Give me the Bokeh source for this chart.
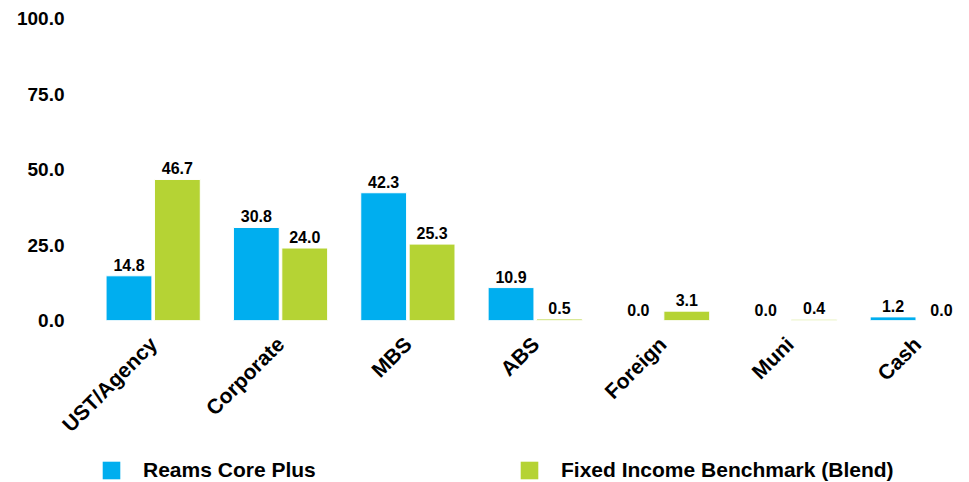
import math
from bokeh.plotting import figure
from bokeh.layouts import column
from bokeh.models import ColumnDataSource, Legend, LegendItem, FixedTicker, Range1d, NumeralTickFormatter
from bokeh.transform import dodge
from bokeh.core.properties import value
from bokeh.embed import file_html
from bokeh.resources import INLINE

categories = ["UST/Agency", "Corporate", "MBS", "ABS", "Foreign", "Muni", "Cash"]
reams = [14.8, 30.8, 42.3, 10.9, 0.0, 0.0, 1.2]
bench = [46.7, 24.0, 25.3, 0.5, 3.1, 0.4, 0.0]
y_ticks = [0, 25, 50, 75, 100]
series_names = ["Reams Core Plus", "Fixed Income Benchmark (Blend)"]
colors = ["#00AEEF", "#B5D334"]

FONT = value("Liberation Sans")
pos = list(range(len(categories)))
src = ColumnDataSource(dict(
    x=pos, reams=reams, bench=bench,
    rl=[f"{v:.1f}" for v in reams], bl=[f"{v:.1f}" for v in bench],
))

p = figure(width=969, height=447,
           x_range=Range1d(-0.5, 6.41), y_range=Range1d(0, 100),
           output_backend="svg", toolbar_location=None,
           min_border_left=89, min_border_right=0, min_border_top=18,
           min_border_bottom=125)

off = 0.19
w = 0.36
r1 = p.vbar(x=dodge("x", -off, range=p.x_range), top="reams", width=w, source=src,
            fill_color=colors[0], line_color="white", line_width=1)
r2 = p.vbar(x=dodge("x", off, range=p.x_range), top="bench", width=w, source=src,
            fill_color=colors[1], line_color="white", line_width=1)

for col, lab, d in (("reams", "rl", -off), ("bench", "bl", off)):
    p.text(x=dodge("x", d, range=p.x_range), y=col, text=lab, source=src,
           text_align="center", text_baseline="bottom", y_offset=-5,
           text_font=FONT, text_font_style="bold", text_font_size="16px",
           text_color="black")

p.xgrid.grid_line_color = None
p.ygrid.grid_line_color = None
p.outline_line_color = None

p.yaxis.ticker = FixedTicker(ticks=y_ticks)
p.yaxis.formatter = NumeralTickFormatter(format="0.0")
p.xaxis.ticker = FixedTicker(ticks=pos)
p.xaxis.major_label_overrides = {i: c for i, c in zip(pos, categories)}
p.xaxis.major_label_orientation = math.pi / 4
for ax in (p.xaxis, p.yaxis):
    ax.axis_line_color = None
    ax.major_tick_line_color = None
    ax.minor_tick_line_color = None
    ax.major_label_text_font = "Liberation Sans"
    ax.major_label_text_font_style = "bold"
    ax.major_label_text_color = "black"
p.yaxis.major_label_text_font_size = "19px"
p.xaxis.major_label_text_font_size = "21px"
p.yaxis.major_label_standoff = 19
p.xaxis.major_label_standoff = 14

# legend strip below the chart (its frame is aligned with the chart's frame);
# its own bars sit outside its ranges so that only the legend shows
lg = figure(width=969, height=35, x_range=Range1d(-20, -10), y_range=Range1d(0, 1),
            output_backend="svg", toolbar_location=None,
            x_axis_location=None, y_axis_location=None, min_border=0)
lg.xgrid.grid_line_color = None
lg.ygrid.grid_line_color = None
lg.outline_line_color = None
d1 = lg.vbar(x="x", top="reams", width=w, source=src, fill_color=colors[0], line_color=None)
d2 = lg.vbar(x="x", top="bench", width=w, source=src, fill_color=colors[1], line_color=None)
legend = Legend(items=[LegendItem(label=series_names[0], renderers=[d1]),
                       LegendItem(label=series_names[1], renderers=[d2])],
                orientation="horizontal", location=(11, 0),
                glyph_width=22, glyph_height=22, label_standoff=21,
                label_width=375, spacing=0, padding=0, margin=0,
                border_line_color=None, background_fill_alpha=0,
                label_text_font="Liberation Sans", label_text_font_style="bold",
                label_text_font_size="21px", label_text_color="black")
lg.add_layout(legend, "center")

layout = column(p, lg, spacing=0)
open("out.html", "w").write(file_html(layout, INLINE))
